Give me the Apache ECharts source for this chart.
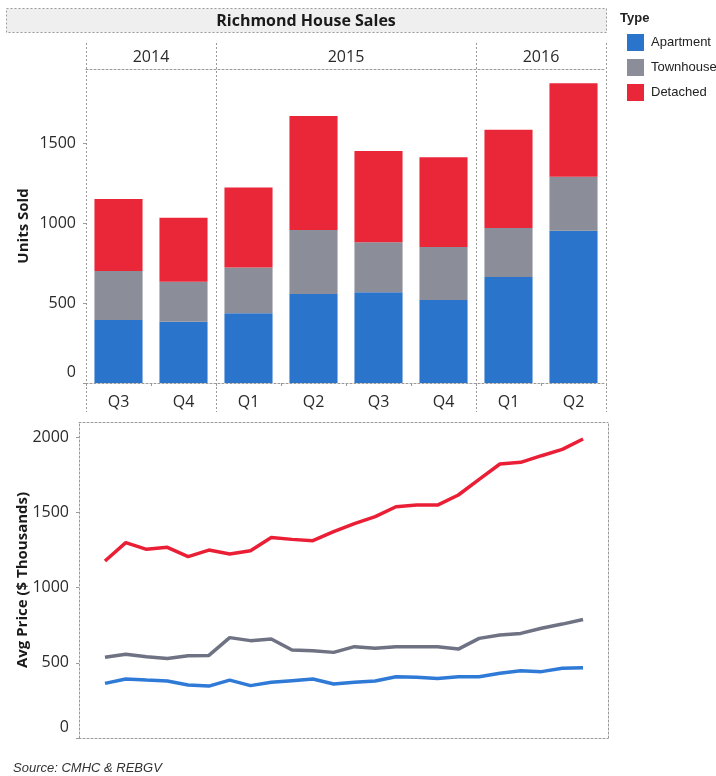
<!DOCTYPE html>
<html>
<head>
<meta charset="utf-8">
<script src="https://cdn.jsdelivr.net/npm/echarts@6/dist/echarts.min.js"></script>
<style>
  html, body { margin: 0; padding: 0; background: #ffffff; }
  #chart { width: 716px; height: 776px; }
</style>
</head>
<body>
<div id="chart"></div>
<script>
// Quarterly unit sales, split by dwelling type
const quarters = ['Q3', 'Q4', 'Q1', 'Q2', 'Q3', 'Q4', 'Q1', 'Q2'];
const years = ['2014', '2015', '2016'];
const quartersPerYear = [2, 4, 2];
const apartmentUnits = [394, 383, 436, 556, 567, 519, 663, 952];
const townhouseUnits = [306, 250, 285, 400, 312, 331, 306, 336];
const detachedUnits  = [450, 400, 500, 713, 571, 561, 614, 585];

// Monthly average price, $ thousands
const months = [
  '2014-07', '2014-08', '2014-09', '2014-10', '2014-11', '2014-12',
  '2015-01', '2015-02', '2015-03', '2015-04', '2015-05', '2015-06',
  '2015-07', '2015-08', '2015-09', '2015-10', '2015-11', '2015-12',
  '2016-01', '2016-02', '2016-03', '2016-04', '2016-05', '2016-06'
];
const apartmentPrice = [363, 392, 385, 379, 352, 345, 385, 348, 370, 381, 392, 359,
                        370, 379, 407, 403, 396, 407, 407, 430, 447, 441, 463, 467];
const townhousePrice = [536, 556, 540, 529, 547, 549, 667, 647, 658, 585, 580, 569,
                        607, 596, 607, 607, 607, 591, 662, 684, 695, 729, 757, 788];
const detachedPrice  = [1176, 1298, 1254, 1267, 1205, 1249, 1223, 1245, 1333, 1320, 1311, 1371,
                        1425, 1471, 1537, 1548, 1548, 1615, 1719, 1821, 1832, 1876, 1918, 1987];

const typeNames = ['Apartment', 'Townhouse', 'Detached'];
const barColors = ['#2b74cc', '#8b8e98', '#ea2738'];
const lineColors = ['#2f7ad6', '#6f7282', '#ea1f36'];

// Year boundaries and year-label centres along the quarter scale
const yearEdges = [0];
quartersPerYear.forEach(n => yearEdges.push(yearEdges[yearEdges.length - 1] + n));
const yearCentres = quartersPerYear.map((n, i) => yearEdges[i] + n / 2);

const FONT = '"Open Sans", "DejaVu Sans", sans-serif';
const ARIAL = '"Liberation Sans", Arial, sans-serif';
const frameLine = { color: '#9a9a9a', width: 1, type: [2, 2] };
const tickText = { color: '#2a2a2a', fontSize: 16, fontFamily: FONT };

// Lift the zero label so it sits inside the pane
function zeroLifted(v) {
  return v === 0 ? '{z|0}' : String(v);
}
const zeroRich = { z: { padding: [0, 0, 22, 0], color: '#2a2a2a', fontSize: 16, fontFamily: FONT } };

const chart = echarts.init(document.getElementById('chart'), null, { renderer: 'canvas' });

chart.setOption({
  animation: false,
  backgroundColor: '#ffffff',
  grid: [
    { left: 86, right: 110, top: 69, bottom: 393 },   // stacked bars
    { left: 86, right: 110, top: 43, bottom: 364 },   // year header + dividers
    { left: 79, right: 108, top: 422, bottom: 38 }    // price lines
  ],
  legend: {
    orient: 'vertical',
    left: 622,
    top: 29,
    itemWidth: 17,
    itemHeight: 17,
    itemGap: 8,
    icon: 'rect',
    data: typeNames,
    textStyle: { color: '#222', fontSize: 13, fontFamily: ARIAL, padding: [0, 0, 0, 2] }
  },
  graphic: [
    {
      type: 'rect',
      shape: { x: 6.5, y: 8.5, width: 600, height: 24 },
      style: { fill: '#efefef', stroke: '#9a9a9a', lineWidth: 1, lineDash: [2, 2] }
    },
    {
      type: 'text',
      x: 306, y: 21,
      style: {
        text: 'Richmond House Sales', fill: '#1a1a1a',
        font: 'bold 16px ' + FONT, align: 'center', verticalAlign: 'middle'
      }
    },
    {
      type: 'text',
      x: 620, y: 18,
      style: { text: 'Type', fill: '#222', font: 'bold 13px ' + ARIAL, verticalAlign: 'middle' }
    },
    {
      type: 'text',
      x: 13, y: 768,
      style: { text: 'Source: CMHC & REBGV', fill: '#333', font: 'italic 13px ' + ARIAL, verticalAlign: 'middle' }
    }
  ],
  xAxis: [
    {
      gridIndex: 0, type: 'category', position: 'bottom', data: quarters,
      axisLine: { onZero: false, lineStyle: frameLine },
      axisTick: { show: true, length: 3, lineStyle: { color: '#9a9a9a' } },
      axisLabel: Object.assign({ margin: 11 }, tickText),
      splitLine: { show: false }
    },
    {
      gridIndex: 0, type: 'category', position: 'top', data: quarters,
      axisLine: { onZero: false, lineStyle: frameLine },
      axisTick: { show: false }, axisLabel: { show: false }, splitLine: { show: false }
    },
    {
      gridIndex: 1, type: 'value', position: 'top',
      min: 0, max: yearEdges[yearEdges.length - 1],
      axisLine: { show: false, onZero: false },
      axisTick: {
        show: true, inside: true, length: 369, customValues: yearEdges,
        lineStyle: frameLine
      },
      axisLabel: Object.assign({
        inside: true, margin: 14, verticalAlign: 'middle',
        customValues: yearCentres,
        formatter: v => years[yearCentres.indexOf(v)] || ''
      }, tickText),
      splitLine: { show: false }
    },
    {
      gridIndex: 2, type: 'value', position: 'bottom', min: -1.25, max: 24.2,
      axisLine: { onZero: false, lineStyle: frameLine },
      axisTick: { show: false }, axisLabel: { show: false }, splitLine: { show: false }
    },
    {
      gridIndex: 2, type: 'value', position: 'top', min: -1.25, max: 24.2,
      axisLine: { onZero: false, lineStyle: frameLine },
      axisTick: { show: false }, axisLabel: { show: false }, splitLine: { show: false }
    }
  ],
  yAxis: [
    {
      gridIndex: 0, type: 'value', min: 0, max: 1962, interval: 500,
      name: 'Units Sold', nameLocation: 'middle', nameGap: 55, nameRotate: 90,
      nameMoveOverlap: false,
      nameTextStyle: { color: '#1a1a1a', fontSize: 15, fontWeight: 'bold', fontFamily: FONT },
      axisLine: { show: false, onZero: false },
      axisTick: { show: true, length: 3, lineStyle: { color: '#9a9a9a' } },
      axisLabel: Object.assign({ margin: 10, showMaxLabel: false, formatter: zeroLifted, rich: zeroRich }, tickText),
      splitLine: { show: false }
    },
    { gridIndex: 1, type: 'value', min: 0, max: 1, show: false },
    {
      gridIndex: 2, type: 'value', min: 0, max: 2100, interval: 500,
      name: 'Avg Price ($ Thousands)', nameLocation: 'middle', nameGap: 49, nameRotate: 90,
      nameMoveOverlap: false,
      nameTextStyle: { color: '#1a1a1a', fontSize: 15, fontWeight: 'bold', fontFamily: FONT },
      axisLine: { show: true, onZero: false, lineStyle: frameLine },
      axisTick: { show: true, length: 3, lineStyle: { color: '#9a9a9a' } },
      axisLabel: Object.assign({ margin: 10, showMaxLabel: false, formatter: zeroLifted, rich: zeroRich }, tickText),
      splitLine: { show: false }
    },
    {
      gridIndex: 2, type: 'value', position: 'right', min: 0, max: 2100,
      axisLine: { show: true, onZero: false, lineStyle: frameLine },
      axisTick: { show: false }, axisLabel: { show: false }, splitLine: { show: false }
    }
  ],
  series: [
    { name: typeNames[0], type: 'bar', stack: 'units', xAxisIndex: 0, yAxisIndex: 0,
      barCategoryGap: '26%', itemStyle: { color: barColors[0] }, data: apartmentUnits },
    { name: typeNames[1], type: 'bar', stack: 'units', xAxisIndex: 0, yAxisIndex: 0,
      barCategoryGap: '26%', itemStyle: { color: barColors[1] }, data: townhouseUnits },
    { name: typeNames[2], type: 'bar', stack: 'units', xAxisIndex: 0, yAxisIndex: 0,
      barCategoryGap: '26%', itemStyle: { color: barColors[2] }, data: detachedUnits },
    { name: typeNames[0], type: 'line', xAxisIndex: 3, yAxisIndex: 2, symbol: 'none',
      lineStyle: { color: lineColors[0], width: 3.5 }, itemStyle: { color: barColors[0] },
      data: months.map((m, i) => [i, apartmentPrice[i]]) },
    { name: typeNames[1], type: 'line', xAxisIndex: 3, yAxisIndex: 2, symbol: 'none',
      lineStyle: { color: lineColors[1], width: 3.5 }, itemStyle: { color: barColors[1] },
      data: months.map((m, i) => [i, townhousePrice[i]]) },
    { name: typeNames[2], type: 'line', xAxisIndex: 3, yAxisIndex: 2, symbol: 'none',
      lineStyle: { color: lineColors[2], width: 3.5 }, itemStyle: { color: barColors[2] },
      data: months.map((m, i) => [i, detachedPrice[i]]) }
  ]
});
</script>
</body>
</html>
